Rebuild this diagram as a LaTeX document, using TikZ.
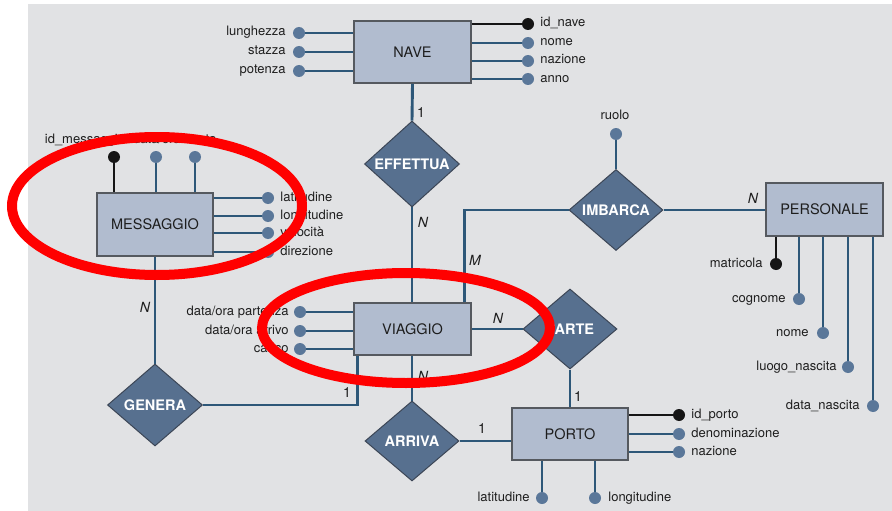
\documentclass[tikz,border=0pt]{standalone}
\usepackage{fontspec}
\setmainfont{TeX Gyre Heros}
\usetikzlibrary{shapes.geometric,calc}
\definecolor{bg}{HTML}{E1E2E4}
\definecolor{entfill}{HTML}{B1BCCF}
\definecolor{entborder}{HTML}{55595F}
\definecolor{relfill}{HTML}{57708F}
\definecolor{relborder}{HTML}{3C4656}
\definecolor{dotblue}{HTML}{5A7799}
\definecolor{linecol}{HTML}{2D5778}
\definecolor{txt}{HTML}{1E1E1E}
\definecolor{keycol}{HTML}{151515}
\begin{document}
\begin{tikzpicture}[x=1pt,y=-1pt,
  entity/.style={draw=entborder, fill=entfill, line width=1.8pt, minimum width=117pt, minimum height=62pt, inner sep=0pt, font=\fontsize{14.5}{16}\selectfont, text=txt},
  rel/.style={diamond, draw=relborder, fill=relfill, line width=1pt, inner sep=0pt, minimum width=95pt, minimum height=82pt, font=\fontsize{14.5}{16}\selectfont\bfseries, text=white},
  dotb/.style={circle, fill=dotblue, inner sep=0pt, minimum size=12pt},
  dotk/.style={circle, fill=keycol, inner sep=0pt, minimum size=12pt},
  conn/.style={draw=linecol, line width=2.9pt},
  keyline/.style={draw=keycol, line width=2.9pt},
  lbl/.style={inner sep=0pt, text height=9pt, text depth=3pt, font=\fontsize{13}{15}\selectfont, text=txt},
  card/.style={inner sep=0pt, font=\fontsize{14}{16}\selectfont, text=txt},
  ring/.style={draw=red, line width=10pt}
]
\useasboundingbox (0,0) rectangle (892,511);
\fill[bg] (28,4) rectangle (892,511);

% entities
\node[entity, minimum height=62pt] (nave) at (412.5,52) {NAVE};
\node[entity, minimum width=116pt, minimum height=63pt] (messaggio) at (155,224.5) {MESSAGGIO};
\node[entity, minimum height=52pt] (viaggio) at (412.5,329) {VIAGGIO};
\node[entity, minimum height=53pt] (personale) at (824.5,209.5) {PERSONALE};
\node[entity, minimum width=116pt, minimum height=52pt] (porto) at (570,434) {PORTO};

% relationships
\node[rel] (effettua) at (412,164) {EFFETTUA};
\node[rel, minimum width=94pt, minimum height=80pt] (parte) at (570,329) {PARTE};
\node[rel, minimum width=94pt, minimum height=81pt] (imbarca) at (616,210) {IMBARCA};
\node[rel] (genera) at (155,405) {GENERA};
\node[rel, minimum width=94pt, minimum height=80pt] (arriva) at (412,441) {ARRIVA};

% relationship connectors
\draw[conn] (nave.south) -- (effettua.north);
\draw[conn] (effettua.south) -- (viaggio.north -| effettua.south);
\draw[conn] ([xshift=-7pt]viaggio.north east) |- (imbarca.west);
\draw[conn] (imbarca.east) -- (imbarca.east -| personale.west);
\draw[conn] (viaggio.east) -- (parte.west);
\draw[conn] (parte.south) -- (porto.north -| parte.south);
\draw[conn] (viaggio.south -| arriva.north) -- (arriva.north);
\draw[conn] (arriva.east) -- (arriva.east -| porto.west);
\draw[conn] ([xshift=4pt]viaggio.south west) |- (genera.east);
\draw[conn] (messaggio.south) -- (genera.north);

% cardinalities
\node[card] (c1) at (421,113) {1};
\node[card] (c2) at (423,222) {\itshape N};
\node[card] (c3) at (475,260) {\itshape M};
\node[card] (c4) at (753,198) {\itshape N};
\node[card] (c5) at (498,318) {\itshape N};
\node[card] (c6) at (423,376) {\itshape N};
\node[card] (c7) at (347,393) {1};
\node[card] (c8) at (578,397) {1};
\node[card] (c9) at (482,429) {1};
\node[card] (c10) at (145,307) {\itshape N};

% NAVE attributes
\node[dotb] (n1) at (299,33) {};
\node[dotb] (n2) at (299,52) {};
\node[dotb] (n3) at (299,71) {};
\node[dotk] (n4) at (528,24) {};
\node[dotb] (n5) at (528,43) {};
\node[dotb] (n6) at (528,61) {};
\node[dotb] (n7) at (528,79) {};
\foreach \d in {n1,n2,n3} \draw[conn] (\d) -- (\d -| nave.west);
\draw[keyline] (n4) -- (n4 -| nave.east);
\foreach \d in {n5,n6,n7} \draw[conn] (\d) -- (\d -| nave.east);
\node[lbl, anchor=east] (ln1) at ([xshift=-7pt]n1.west) {lunghezza};
\node[lbl, anchor=east] (ln2) at ([xshift=-7pt]n2.west) {stazza};
\node[lbl, anchor=east] (ln3) at ([xshift=-7pt]n3.west) {potenza};
\node[lbl, anchor=west] (ln4) at ([xshift=6pt]n4.east) {id\_nave};
\node[lbl, anchor=west] (ln5) at ([xshift=6pt]n5.east) {nome};
\node[lbl, anchor=west] (ln6) at ([xshift=6pt]n6.east) {nazione};
\node[lbl, anchor=west] (ln7) at ([xshift=6pt]n7.east) {anno};

% MESSAGGIO attributes
\node[dotk] (m1) at (114,157) {};
\node[dotb] (m2) at (156,157) {};
\node[dotb] (m3) at (195,157) {};
\draw[keyline] (m1) -- (m1 |- messaggio.north);
\foreach \d in {m2,m3} \draw[conn] (\d) -- (\d |- messaggio.north);
\node[lbl] (lm1) at (85,140) {id\_messaggio};
\node[lbl] (lm2) at (157,140) {data/ora};
\node[lbl, anchor=west] (lm3) at (191,140) {nota};
\node[dotb] (m4) at (268,198) {};
\node[dotb] (m5) at (268,216) {};
\node[dotb] (m6) at (268,233) {};
\node[dotb] (m7) at (268,252) {};
\foreach \d in {m4,m5,m6,m7} \draw[conn] (\d) -- (\d -| messaggio.east);
\node[lbl, anchor=west] (lm4) at ([xshift=6pt]m4.east) {latitudine};
\node[lbl, anchor=west] (lm5) at ([xshift=6pt]m5.east) {longitudine};
\node[lbl, anchor=west] (lm6) at ([xshift=6pt]m6.east) {velocità};
\node[lbl, anchor=west] (lm7) at ([xshift=6pt]m7.east) {direzione};

% VIAGGIO attributes
\node[dotb] (v1) at (300,312) {};
\node[dotb] (v2) at (300,331) {};
\node[dotb] (v3) at (300,349) {};
\foreach \d in {v1,v2,v3} \draw[conn] (\d) -- (\d -| viaggio.west);
\node[lbl, anchor=east] (lv1) at ([xshift=-5pt]v1.west) {data/ora partenza};
\node[lbl, anchor=east] (lv2) at ([xshift=-5pt]v2.west) {data/ora arrivo};
\node[lbl, anchor=east] (lv3) at ([xshift=-5pt]v3.west) {carico};

% IMBARCA attribute
\node[dotb] (r1) at (616,134) {};
\draw[conn] (r1) -- (imbarca.north);
\node[lbl] (lr1) at (615,117) {ruolo};

% PERSONALE attributes
\node[dotk] (p1) at (776,264) {};
\node[dotb] (p2) at (799,299) {};
\node[dotb] (p3) at (823,333) {};
\node[dotb] (p4) at (848,367) {};
\node[dotb] (p5) at (873,406) {};
\draw[keyline] (p1) -- (p1 |- personale.south);
\foreach \d in {p2,p3,p4,p5} \draw[conn] (\d) -- (\d |- personale.south);
\node[lbl, anchor=east] (lp1) at ([xshift=-7pt]p1.west) {matricola};
\node[lbl, anchor=east] (lp2) at ([xshift=-7pt]p2.west) {cognome};
\node[lbl, anchor=east] (lp3) at ([xshift=-8pt]p3.west) {nome};
\node[lbl, anchor=east] (lp4) at ([xshift=-5pt]p4.west) {luogo\_nascita};
\node[lbl, anchor=east] (lp5) at ([xshift=-7pt]p5.west) {data\_nascita};

% PORTO attributes
\node[dotk] (o1) at (679,415) {};
\node[dotb] (o2) at (679,434) {};
\node[dotb] (o3) at (679,452) {};
\draw[keyline] (o1) -- (o1 -| porto.east);
\foreach \d in {o2,o3} \draw[conn] (\d) -- (\d -| porto.east);
\node[lbl, anchor=west] (lo1) at ([xshift=6pt]o1.east) {id\_porto};
\node[lbl, anchor=west] (lo2) at ([xshift=6pt]o2.east) {denominazione};
\node[lbl, anchor=west] (lo3) at ([xshift=6pt]o3.east) {nazione};
\node[dotb] (o4) at (542,498) {};
\node[dotb] (o5) at (595,498) {};
\foreach \d in {o4,o5} \draw[conn] (\d) -- (\d |- porto.south);
\node[lbl, anchor=east] (lo4) at ([xshift=-6pt]o4.west) {latitudine};
\node[lbl, anchor=west] (lo5) at ([xshift=7pt]o5.east) {longitudine};

% red annotation rings
\draw[ring] (157,206) ellipse [x radius=145pt, y radius=69pt];
\draw[ring] (406,328) ellipse [x radius=144pt, y radius=55pt];
\end{tikzpicture}
\end{document}
